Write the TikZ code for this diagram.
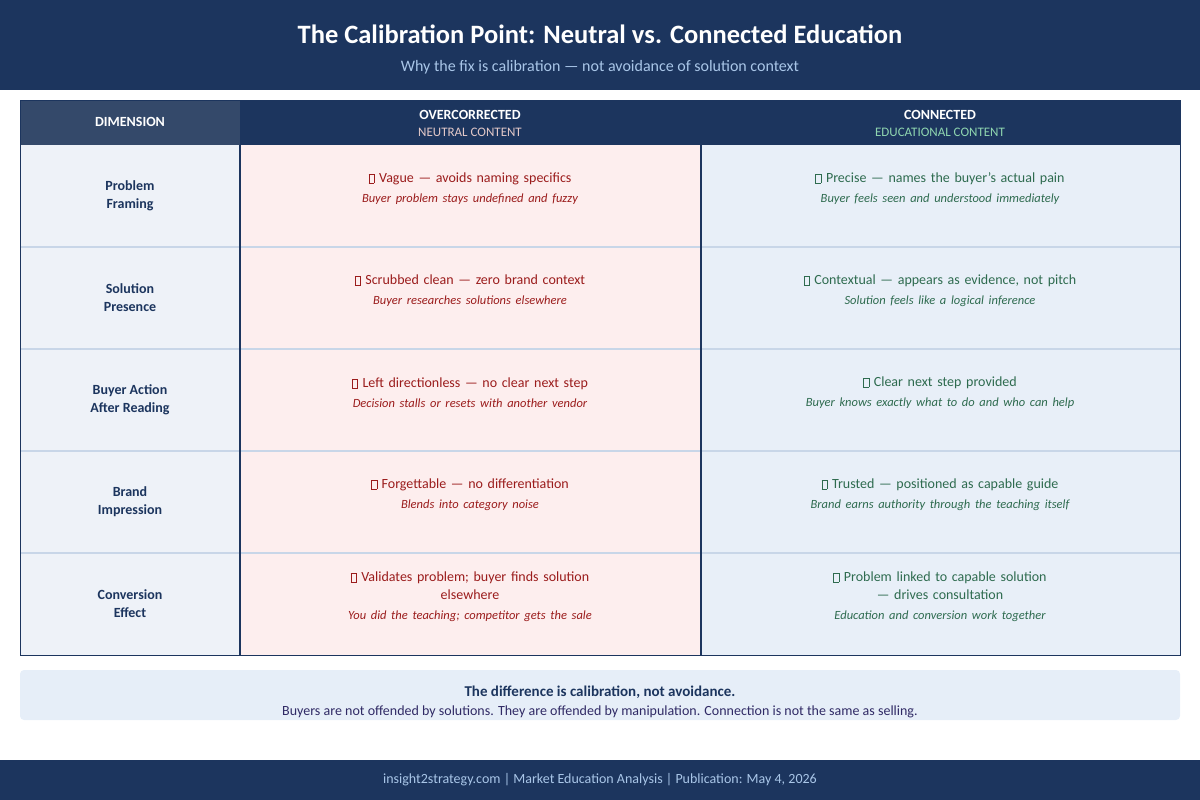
\documentclass[tikz,border=0pt]{standalone}
\usepackage{fontspec}
\setmainfont{Carlito}
\definecolor{navy}{HTML}{1C355E}
\definecolor{dimhead}{HTML}{34496A}
\definecolor{subblue}{HTML}{A9C6E8}
\definecolor{dimbg}{HTML}{EEF2F8}
\definecolor{negbg}{HTML}{FDEEEE}
\definecolor{posbg}{HTML}{E8EFF8}
\definecolor{gridline}{HTML}{C8D6E8}
\definecolor{negtext}{HTML}{9B1C1C}
\definecolor{postext}{HTML}{2E6B4F}
\definecolor{negsub}{HTML}{E3C9C9}
\definecolor{possub}{HTML}{8FD6B0}
\definecolor{callbg}{HTML}{E6EEF8}
\newcommand{\tofu}{{\setlength{\fboxsep}{0pt}\setlength{\fboxrule}{0.5pt}\framebox[0.42em]{\rule{0pt}{0.62em}}}}
\newcommand{\notefont}{\fontsize{12.5}{15}\selectfont\itshape}
\begin{document}
\begin{tikzpicture}[x=1pt,y=-1pt,
	dim-node/.style={text=navy,font=\fontsize{14}{18}\selectfont\bfseries,align=center},
	neg-node/.style={text=negtext,font=\fontsize{14}{18}\selectfont,align=center,text width=300pt},
	pos-node/.style={text=postext,font=\fontsize{14}{18}\selectfont,align=center,text width=300pt}]
	\useasboundingbox (0,0) rectangle (1200,800);
	% header band
	\fill[navy] (0,0) rectangle (1200,90);
	\node[text=white,font=\fontsize{26.5}{30}\selectfont\bfseries] (title) at (600,34) {The Calibration Point: Neutral vs. Connected Education};
	\node[text=subblue,font=\fontsize{16}{19}\selectfont] (subtitle) at (600,67) {Why the fix is calibration — not avoidance of solution context};
	% table head
	\fill[dimhead] (20,100) rectangle (240,145);
	\fill[navy] (240,100) rectangle (1180,145);
	\node[text=white,font=\fontsize{14}{17}\selectfont\bfseries] (hdim) at (130,122) {DIMENSION};
	\node[text=white,font=\fontsize{14}{17}\selectfont\bfseries] (hneg) at (470,115) {OVERCORRECTED};
	\node[text=negsub,font=\fontsize{13}{16}\selectfont] (hnegsub) at (470,132) {NEUTRAL CONTENT};
	\node[text=white,font=\fontsize{14}{17}\selectfont\bfseries] (hpos) at (940,115) {CONNECTED};
	\node[text=possub,font=\fontsize{13}{16}\selectfont] (hpossub) at (940,132) {EDUCATIONAL CONTENT};
	% rows
	\foreach \i/\dimtxt/\negtxt/\negnote/\postxt/\posnote in {
		0/{Problem\\Framing}/{Vague — avoids naming specifics}/{Buyer problem stays undefined and fuzzy}/{Precise — names the buyer's actual pain}/{Buyer feels seen and understood immediately},
		1/{Solution\\Presence}/{Scrubbed clean — zero brand context}/{Buyer researches solutions elsewhere}/{Contextual — appears as evidence, not pitch}/{Solution feels like a logical inference},
		2/{Buyer Action\\After Reading}/{Left directionless — no clear next step}/{Decision stalls or resets with another vendor}/{Clear next step provided}/{Buyer knows exactly what to do and who can help},
		3/{Brand\\Impression}/{Forgettable — no differentiation}/{Blends into category noise}/{Trusted — positioned as capable guide}/{Brand earns authority through the teaching itself},
		4/{Conversion\\Effect}/{Validates problem; buyer finds solution\\elsewhere}/{You did the teaching; competitor gets the sale}/{Problem linked to capable solution\\— drives consultation}/{Education and conversion work together}}{
		\pgfmathsetmacro{\rowtop}{145+102*\i}
		\pgfmathsetmacro{\rowmid}{\rowtop+51}
		\fill[dimbg] (20,\rowtop) rectangle (240,\rowtop+102);
		\fill[negbg] (240,\rowtop) rectangle (701,\rowtop+102);
		\fill[posbg] (701,\rowtop) rectangle (1180,\rowtop+102);
		\node[dim-node] (dim\i) at (130,\rowmid) {\dimtxt};
		\node[neg-node] (neg\i) at (470,\rowmid-7) {\tofu{} \negtxt\\[2pt]{\notefont\negnote}};
		\node[pos-node] (pos\i) at (940,\rowmid-7) {\tofu{} \postxt\\[2pt]{\notefont\posnote}};
	}
	% grid
	\foreach \i in {1,...,4}
		\draw[gridline,line width=1.5pt] (20,145+102*\i) -- (1180,145+102*\i);
	\draw[navy,line width=2pt] (240,145) -- (240,655);
	\draw[navy,line width=2pt] (701,145) -- (701,655);
	\draw[navy,line width=1pt] (20,100) rectangle (1180,655);
	% callout
	\fill[callbg,rounded corners=4pt] (20,670) rectangle (1180,720);
	\node[text=navy,font=\fontsize{15}{18}\selectfont\bfseries] (calltitle) at (600,692) {The difference is calibration, not avoidance.};
	\node[text=navy!80!violet,font=\fontsize{14}{17}\selectfont] (calltext) at (600,712) {Buyers are not offended by solutions. They are offended by manipulation. Connection is not the same as selling.};
	% footer
	\fill[navy] (0,760) rectangle (1200,800);
	\node[text=subblue,font=\fontsize{14}{17}\selectfont] (footer) at (600,780) {insight2strategy.com | Market Education Analysis | Publication: May 4, 2026};
\end{tikzpicture}
\end{document}
